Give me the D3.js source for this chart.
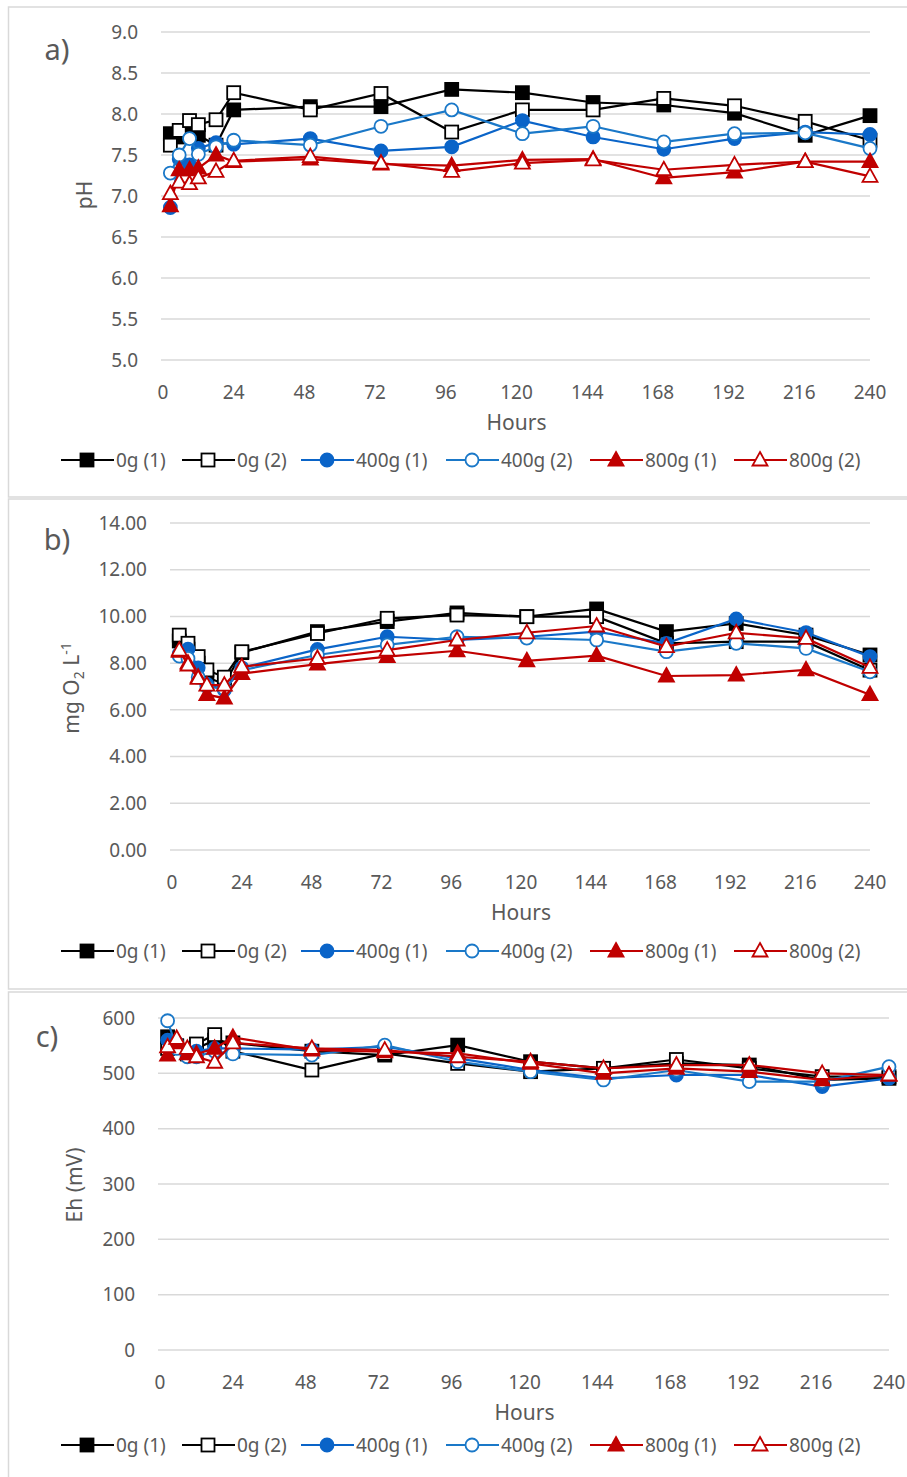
<!DOCTYPE html>
<meta charset="utf-8">
<script src="https://d3js.org/d3.v7.min.js"></script>
<style>
  body { margin: 0; background: #fff; }
  text { font-family: "Noto Sans", sans-serif; fill: #595959; }
</style>
<div id="chart"></div>
<script>

// sampling times (hours)
var hours = [2.5, 5.5, 9, 12, 18, 24, 50, 74, 98, 122, 146, 170, 194, 218, 240]
var xTicks = [0, 24, 48, 72, 96, 120, 144, 168, 192, 216, 240]

var seriesNames = ["0g (1)", "0g (2)", "400g (1)", "400g (2)", "800g (1)", "800g (2)"]

// a) pH
var ph0g1   = [7.76, 7.72, 7.78, 7.74, 7.62, 8.05, 8.09, 8.09, 8.30, 8.26, 8.14, 8.11, 8.01, 7.74, 7.98]
var ph0g2   = [7.62, 7.80, 7.92, 7.87, 7.93, 8.26, 8.05, 8.25, 7.78, 8.05, 8.05, 8.19, 8.10, 7.91, 7.68]
var ph400g1 = [6.86, 7.45, 7.38, 7.58, 7.65, 7.63, 7.70, 7.55, 7.60, 7.92, 7.72, 7.57, 7.70, 7.78, 7.75]
var ph400g2 = [7.28, 7.50, 7.70, 7.51, 7.60, 7.68, 7.62, 7.85, 8.05, 7.76, 7.85, 7.66, 7.76, 7.77, 7.58]
var ph800g1 = [6.88, 7.32, 7.32, 7.34, 7.50, 7.42, 7.45, 7.39, 7.37, 7.44, 7.45, 7.22, 7.29, 7.42, 7.42]
var ph800g2 = [7.03, 7.17, 7.15, 7.22, 7.30, 7.43, 7.48, 7.40, 7.30, 7.40, 7.44, 7.32, 7.38, 7.42, 7.24]
var phTicks = [5.0, 5.5, 6.0, 6.5, 7.0, 7.5, 8.0, 8.5, 9.0]

// b) dissolved oxygen
var do0g1   = [8.95, 8.60, 8.00, 7.40, 7.10, 8.45, 9.35, 9.78, 10.15, 9.99, 10.32, 9.35, 9.70, 9.20, 8.35]
var do0g2   = [9.20, 8.85, 8.28, 7.71, 7.40, 8.49, 9.27, 9.92, 10.06, 9.99, 9.99, 8.85, 8.92, 8.92, 7.70]
var do400g1 = [8.40, 8.60, 7.80, 7.10, 6.85, 7.80, 8.59, 9.13, 8.99, 9.13, 9.35, 8.85, 9.89, 9.31, 8.28]
var do400g2 = [8.30, 8.20, 7.40, 7.00, 6.90, 7.70, 8.35, 8.78, 9.13, 9.07, 8.99, 8.49, 8.85, 8.63, 7.63]
var do800g1 = [8.50, 8.00, 7.40, 6.65, 6.50, 7.55, 7.96, 8.28, 8.53, 8.10, 8.32, 7.45, 7.49, 7.71, 6.65]
var do800g2 = [8.56, 7.92, 7.35, 7.06, 7.06, 7.85, 8.20, 8.56, 8.99, 9.30, 9.59, 8.71, 9.30, 9.06, 7.82]
var doTicks = [0, 2, 4, 6, 8, 10, 12, 14]

// c) Eh
var eh0g1   = [566, 548, 535, 545, 560, 555, 540, 533, 551, 521, 509, 518, 515, 488, 491]
var eh0g2   = [545, 550, 540, 553, 570, 540, 506, 536, 518, 503, 509, 525, 509, 494, 494]
var eh400g1 = [560, 555, 535, 540, 545, 545, 543, 548, 527, 506, 491, 497, 497, 476, 491]
var eh400g2 = [595, 545, 530, 530, 540, 535, 533, 551, 521, 503, 488, 506, 485, 485, 512]
var eh800g1 = [533, 555, 535, 535, 545, 565, 542, 539, 536, 518, 500, 509, 503, 488, 497]
var eh800g2 = [548, 563, 545, 530, 520, 555, 545, 542, 530, 521, 509, 515, 515, 500, 497]
var ehTicks = [0, 100, 200, 300, 400, 500, 600]

var styles = [
  {color: "#000000", shape: "square",   filled: true},
  {color: "#000000", shape: "square",   filled: false},
  {color: "#0a64c8", shape: "circle",   filled: true},
  {color: "#1a78c8", shape: "circle",   filled: false},
  {color: "#c00000", shape: "triangle", filled: true},
  {color: "#c00000", shape: "triangle", filled: false}
]

var svg = d3.select("#chart").append("svg")
  .attr("width", 907)
  .attr("height", 1477)

function marker(g, st, x, y) {
  var fill = st.filled ? st.color : "#fff"
  if (st.shape == "square") {
    g.append("rect").attr("x", x - 6.5).attr("y", y - 6.5)
      .attr("width", 13).attr("height", 13)
      .attr("fill", fill).attr("stroke", st.color).attr("stroke-width", 1.8)
  } else if (st.shape == "circle") {
    g.append("circle").attr("cx", x).attr("cy", y).attr("r", 6.5)
      .attr("fill", fill).attr("stroke", st.color).attr("stroke-width", 1.8)
  } else {
    g.append("path")
      .attr("d", "M" + x + "," + (y - 8) + "L" + (x + 7.5) + "," + (y + 5.5) + "L" + (x - 7.5) + "," + (y + 5.5) + "Z")
      .attr("fill", fill).attr("stroke", st.color).attr("stroke-width", 1.8)
  }
}

function panel(p) {
  var g = svg.append("g")

  // frame
  g.append("rect").attr("x", 8.5).attr("y", p.box[0]).attr("width", 910).attr("height", p.box[1] - p.box[0])
    .attr("fill", "none").attr("stroke", "#d9d9d9").attr("stroke-width", 1.5)

  var x = d3.scaleLinear().domain([0, 240]).range(p.xr)
  var y = d3.scaleLinear().domain(p.yd).range(p.yr)

  g.selectAll(".grid").data(p.yTicks).enter().append("line")
    .attr("x1", p.xr[0] - 2).attr("x2", p.xr[1])
    .attr("y1", function(d) { return y(d) }).attr("y2", function(d) { return y(d) })
    .attr("stroke", "#d9d9d9").attr("stroke-width", 1.5)

  g.selectAll(".yl").data(p.yTicks).enter().append("text")
    .attr("x", p.yLabX).attr("y", function(d) { return y(d) })
    .attr("dy", "0.35em").attr("text-anchor", "end")
    .style("font-size", "19px")
    .text(function(d) { return d3.format(p.fmt)(d) })

  g.selectAll(".xl").data(xTicks).enter().append("text")
    .attr("x", function(d) { return x(d) }).attr("y", p.xLabY)
    .attr("dy", "0.35em").attr("text-anchor", "middle")
    .style("font-size", "19px")
    .text(function(d) { return d })

  g.append("text").attr("x", (p.xr[0] + p.xr[1]) / 2).attr("y", p.xLabY + 31)
    .attr("dy", "0.35em").attr("text-anchor", "middle").style("font-size", "21px").text("Hours")

  var yt = g.append("text")
    .attr("transform", "translate(" + p.yTitle[0] + "," + p.yTitle[1] + ") rotate(-90)")
    .attr("dy", "0.35em").attr("text-anchor", "middle").style("font-size", "21px")
  p.title(yt)

  g.append("text").attr("x", p.label[0]).attr("y", p.label[1]).attr("dy", "0.35em")
    .attr("text-anchor", "middle").style("font-size", "29px").text(p.name)

  var line = d3.line().x(function(d) { return x(d[0]) }).y(function(d) { return y(d[1]) })

  p.series.forEach(function(vals, i) {
    var st = styles[i]
    var pts = hours.map(function(h, j) { return [h, vals[j]] })
    g.append("path").datum(pts).attr("d", line)
      .attr("fill", "none").attr("stroke", st.color).attr("stroke-width", 2.2)
    pts.forEach(function(d) { marker(g, st, x(d[0]), y(d[1])) })
  })

  // legend
  var lx = [61, 182, 301, 446, 590, 734]
  seriesNames.forEach(function(n, i) {
    var st = styles[i]
    g.append("line").attr("x1", lx[i]).attr("x2", lx[i] + 53)
      .attr("y1", p.legY).attr("y2", p.legY)
      .attr("stroke", st.color).attr("stroke-width", 2.2)
    marker(g, st, lx[i] + 26, p.legY)
    g.append("text").attr("x", lx[i] + 55).attr("y", p.legY).attr("dy", "0.35em")
      .style("font-size", "19px").text(n)
  })
}

panel({
  name: "a)", box: [7, 497], xr: [163, 870], yd: [5, 9], yr: [360, 32],
  yTicks: phTicks, fmt: ".1f", yLabX: 138, xLabY: 392, legY: 460,
  yTitle: [85, 195], label: [57, 50],
  title: function(t) { t.text("pH") },
  series: [ph0g1, ph0g2, ph400g1, ph400g2, ph800g1, ph800g2]
})

panel({
  name: "b)", box: [499, 989], xr: [172, 870], yd: [0, 14], yr: [850, 523],
  yTicks: doTicks, fmt: ".2f", yLabX: 147, xLabY: 882, legY: 951,
  yTitle: [72, 688], label: [57, 540],
  title: function(t) {
    t.append("tspan").text("mg O")
    t.append("tspan").attr("dy", "5").style("font-size", "14px").text("2")
    t.append("tspan").attr("dy", "-5").text(" L")
    t.append("tspan").attr("dy", "-8").style("font-size", "14px").text("-1")
  },
  series: [do0g1, do0g2, do400g1, do400g2, do800g1, do800g2]
})

panel({
  name: "c)", box: [992, 1490], xr: [160, 889], yd: [0, 600], yr: [1350, 1018],
  yTicks: ehTicks, fmt: "d", yLabX: 135, xLabY: 1382, legY: 1445,
  yTitle: [75, 1185], label: [47, 1037],
  title: function(t) { t.text("Eh (mV)") },
  series: [eh0g1, eh0g2, eh400g1, eh400g2, eh800g1, eh800g2]
})

</script>
